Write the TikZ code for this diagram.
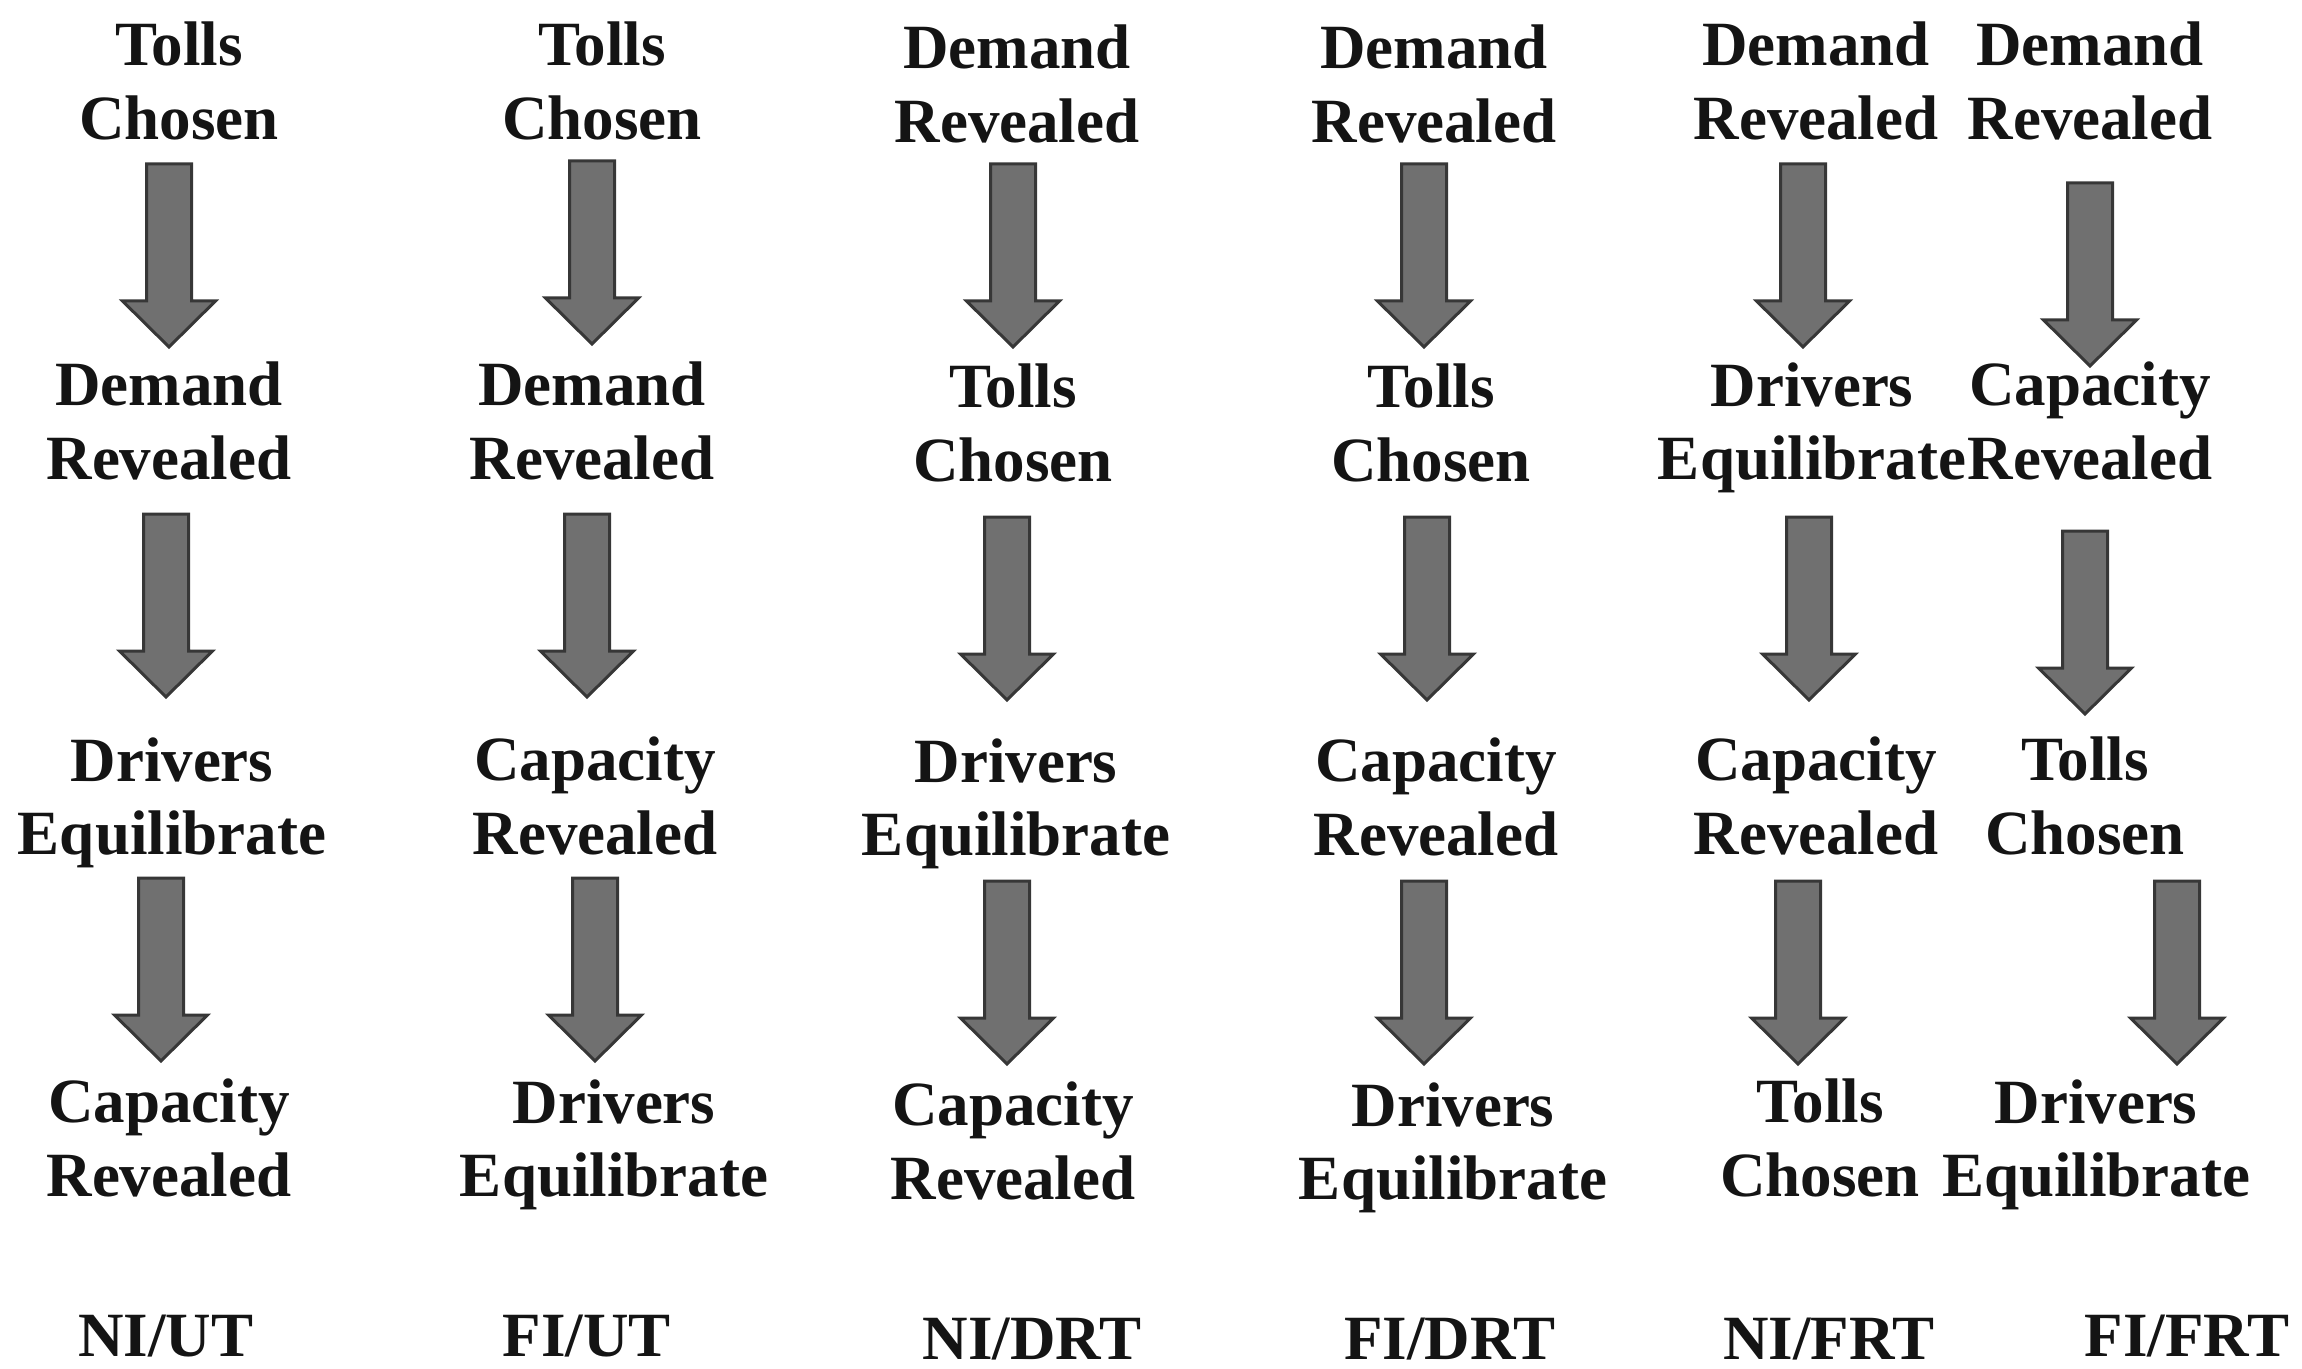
\documentclass[tikz,border=0pt]{standalone}
\usepackage{fontspec}
\setmainfont{Liberation Serif}
\definecolor{arrfill}{RGB}{112,112,112}
\definecolor{arrdraw}{RGB}{55,55,55}
\definecolor{txt}{RGB}{20,20,20}
\tikzset{
  lbl/.style={align=center, inner sep=0pt, text=txt, font=\bfseries\fontsize{31.5}{36.7}\selectfont},
  arrowstyle/.style={fill=arrfill, draw=arrdraw, line width=1.5pt, line join=miter},
  blockarrow/.pic={\draw[arrowstyle] (-22.5,0) -- (22.5,0) -- (22.5,137) -- (46.5,137) -- (0,183) -- (-46.5,137) -- (-22.5,137) -- cycle;}
}
\begin{document}
\begin{tikzpicture}[x=0.5pt,y=-0.5pt]
\useasboundingbox (0,0) rectangle (2302,1369);
% column 1
\node[lbl] (c1r1) at (179,81) {Tolls\\Chosen};
\node[lbl] (c1r2) at (169,421) {Demand\\Revealed};
\node[lbl] (c1r3) at (172,803) {Drivers\\Equilibrate};
\node[lbl] (c1r4) at (169,1138) {Capacity\\Revealed};
\node[lbl] (c1l) at (166,1336) {NI/UT};
\pic at (169,164) {blockarrow};
\pic at (166,514) {blockarrow};
\pic at (161,878) {blockarrow};
% column 2
\node[lbl] (c2r1) at (602,81) {Tolls\\Chosen};
\node[lbl] (c2r2) at (592,421) {Demand\\Revealed};
\node[lbl] (c2r3) at (595,796) {Capacity\\Revealed};
\node[lbl] (c2r4) at (614,1145) {Drivers\\Equilibrate};
\node[lbl] (c2l) at (587,1336) {FI/UT};
\pic at (592,161) {blockarrow};
\pic at (587,514) {blockarrow};
\pic at (595,878) {blockarrow};
% column 3
\node[lbl] (c3r1) at (1017,84) {Demand\\Revealed};
\node[lbl] (c3r2) at (1013,423) {Tolls\\Chosen};
\node[lbl] (c3r3) at (1016,804) {Drivers\\Equilibrate};
\node[lbl] (c3r4) at (1013,1141) {Capacity\\Revealed};
\node[lbl] (c3l) at (1032,1339) {NI/DRT};
\pic at (1013,164) {blockarrow};
\pic at (1007,517) {blockarrow};
\pic at (1007,881) {blockarrow};
% column 4
\node[lbl] (c4r1) at (1434,84) {Demand\\Revealed};
\node[lbl] (c4r2) at (1431,423) {Tolls\\Chosen};
\node[lbl] (c4r3) at (1436,797) {Capacity\\Revealed};
\node[lbl] (c4r4) at (1453,1148) {Drivers\\Equilibrate};
\node[lbl] (c4l) at (1450,1339) {FI/DRT};
\pic at (1424,164) {blockarrow};
\pic at (1427,517) {blockarrow};
\pic at (1424,881) {blockarrow};
% column 5
\node[lbl] (c5r1) at (1816,81) {Demand\\Revealed};
\node[lbl] (c5r2) at (1812,428) {Drivers\\Equilibrate};
\node[lbl] (c5r3) at (1816,796) {Capacity\\Revealed};
\node[lbl] (c5r4) at (1820,1138) {Tolls\\Chosen};
\node[lbl] (c5l) at (1829,1339) {NI/FRT};
\pic at (1803,164) {blockarrow};
\pic at (1809,517) {blockarrow};
\pic at (1798,881) {blockarrow};
% column 6
\node[lbl] (c6r1) at (2090,81) {Demand\\Revealed};
\node[lbl] (c6r2) at (2090,421) {Capacity\\Revealed};
\node[lbl] (c6r3) at (2085,796) {Tolls\\Chosen};
\node[lbl] (c6r4) at (2096,1145) {Drivers\\Equilibrate};
\node[lbl] (c6l) at (2187,1336) {FI/FRT};
\pic at (2090,183) {blockarrow};
\pic at (2085,531) {blockarrow};
\pic at (2177,881) {blockarrow};
\end{tikzpicture}
\end{document}
